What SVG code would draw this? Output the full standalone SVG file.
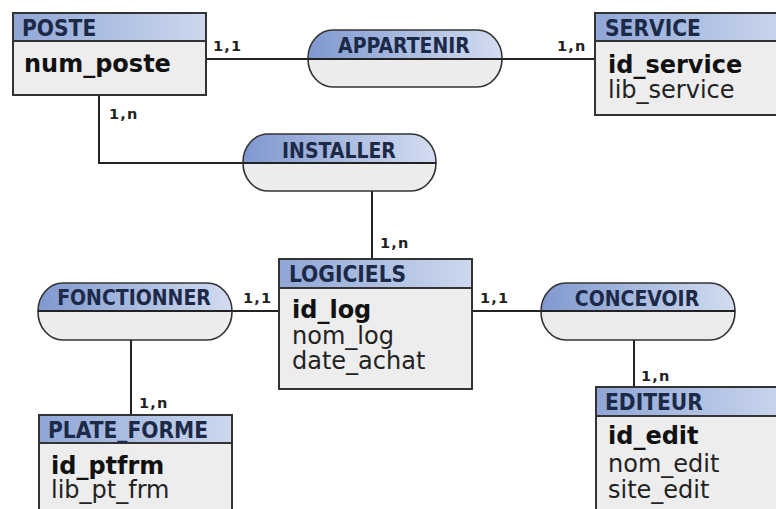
<svg xmlns="http://www.w3.org/2000/svg" width="776" height="509" viewBox="0 0 776 509">
<defs>
<linearGradient id="hg" x1="0" y1="0" x2="1" y2="0">
<stop offset="0" stop-color="#8fa6d6"/>
<stop offset="1" stop-color="#cdd8ee"/>
</linearGradient>
<linearGradient id="rg" x1="0" y1="0" x2="1" y2="0">
<stop offset="0" stop-color="#7f98cf"/>
<stop offset="1" stop-color="#d3ddf0"/>
</linearGradient>
<clipPath id="pill1"><rect x="308" y="30" width="194" height="57" rx="25" ry="28"/></clipPath>
<clipPath id="pill2"><rect x="243" y="134" width="193" height="57" rx="25" ry="28"/></clipPath>
<clipPath id="pill3"><rect x="38" y="283" width="194" height="57" rx="25" ry="28"/></clipPath>
<clipPath id="pill4"><rect x="541" y="283" width="194" height="57" rx="25" ry="28"/></clipPath>
</defs>
<style>
.body{fill:#ededed;stroke:#333;stroke-width:2}
.head{fill:url(#hg);stroke:#333;stroke-width:2}
.rtop{fill:url(#rg)}
.rbot{fill:#ececec}
.rout{fill:none;stroke:#333;stroke-width:1.6}
.ht{font-family:"DejaVu Sans Condensed","DejaVu Sans",sans-serif;font-weight:bold;font-size:22.5px;fill:#1c2a48}
.rt{font-family:"DejaVu Sans Condensed","DejaVu Sans",sans-serif;font-weight:bold;font-size:21px;fill:#1c2a48;text-anchor:middle}
.id{font-family:"DejaVu Sans",sans-serif;font-weight:bold;font-size:24px;fill:#111}
.at{font-family:"DejaVu Sans",sans-serif;font-size:24px;fill:#222}
.card{font-family:"DejaVu Sans",sans-serif;font-weight:bold;font-size:14.5px;fill:#222;letter-spacing:1.2px}
.ln{fill:none;stroke:#222;stroke-width:2}
</style>
<rect width="776" height="509" fill="#ffffff"/>
<g id="connectors">
<line class="ln" x1="206" y1="59" x2="595" y2="59"/>
<polyline class="ln" points="99,95 99,163 243,163"/>
<line class="ln" x1="372" y1="191" x2="372" y2="259"/>
<line class="ln" x1="232" y1="311" x2="279" y2="311"/>
<line class="ln" x1="472" y1="311" x2="541" y2="311"/>
<line class="ln" x1="131" y1="340" x2="131" y2="415"/>
<line class="ln" x1="634" y1="340" x2="634" y2="387"/>
<text class="card" x="213" y="51">1,1</text>
<text class="card" x="557" y="51">1,n</text>
<text class="card" x="109" y="119">1,n</text>
<text class="card" x="380" y="248">1,n</text>
<text class="card" x="243" y="303">1,1</text>
<text class="card" x="480" y="303">1,1</text>
<text class="card" x="139" y="408">1,n</text>
<text class="card" x="641" y="381">1,n</text>
</g>
<g id="POSTE">
<rect class="body" x="13" y="13" width="193" height="82"/>
<rect class="head" x="13" y="13" width="193" height="28"/>
<text class="ht" x="22" y="36">POSTE</text>
<text class="id" x="24" y="72">num_poste</text>
</g>
<g id="SERVICE">
<rect class="body" x="595" y="13" width="200" height="102"/>
<rect class="head" x="595" y="13" width="200" height="28"/>
<text class="ht" x="605" y="36">SERVICE</text>
<text class="id" x="608" y="73">id_service</text>
<text class="at" x="608" y="98">lib_service</text>
</g>
<g id="LOGICIELS">
<rect class="body" x="279" y="259" width="193" height="130"/>
<rect class="head" x="279" y="259" width="193" height="29"/>
<text class="ht" x="289" y="282">LOGICIELS</text>
<text class="id" x="292" y="318">id_log</text>
<text class="at" x="292" y="344">nom_log</text>
<text class="at" x="292" y="369">date_achat</text>
</g>
<g id="PLATE_FORME">
<rect class="body" x="39" y="415" width="193" height="110"/>
<rect class="head" x="39" y="415" width="193" height="28"/>
<text class="ht" x="48" y="438">PLATE_FORME</text>
<text class="id" x="51" y="474">id_ptfrm</text>
<text class="at" x="51" y="498">lib_pt_frm</text>
</g>
<g id="EDITEUR">
<rect class="body" x="596" y="387" width="200" height="140"/>
<rect class="head" x="596" y="387" width="200" height="29"/>
<text class="ht" x="605" y="410">EDITEUR</text>
<text class="id" x="608" y="444">id_edit</text>
<text class="at" x="608" y="472">nom_edit</text>
<text class="at" x="608" y="498">site_edit</text>
</g>
<g id="APPARTENIR">
<g clip-path="url(#pill1)"><rect class="rtop" x="308" y="30" width="194" height="29"/><rect class="rbot" x="308" y="59" width="194" height="28"/></g>
<rect class="rout" x="308" y="30" width="194" height="57" rx="25" ry="28"/>
<line class="ln" x1="308" y1="59" x2="502" y2="59"/>
<text class="rt" x="404" y="53">APPARTENIR</text>
</g>
<g id="INSTALLER">
<g clip-path="url(#pill2)"><rect class="rtop" x="243" y="134" width="193" height="29"/><rect class="rbot" x="243" y="163" width="193" height="28"/></g>
<rect class="rout" x="243" y="134" width="193" height="57" rx="25" ry="28"/>
<line class="ln" x1="243" y1="163" x2="436" y2="163"/>
<text class="rt" x="339" y="158">INSTALLER</text>
</g>
<g id="FONCTIONNER">
<g clip-path="url(#pill3)"><rect class="rtop" x="38" y="283" width="194" height="29"/><rect class="rbot" x="38" y="312" width="194" height="28"/></g>
<rect class="rout" x="38" y="283" width="194" height="57" rx="25" ry="28"/>
<line class="ln" x1="38" y1="311" x2="232" y2="311"/>
<text class="rt" x="134" y="305">FONCTIONNER</text>
</g>
<g id="CONCEVOIR">
<g clip-path="url(#pill4)"><rect class="rtop" x="541" y="283" width="194" height="29"/><rect class="rbot" x="541" y="312" width="194" height="28"/></g>
<rect class="rout" x="541" y="283" width="194" height="57" rx="25" ry="28"/>
<line class="ln" x1="541" y1="311" x2="735" y2="311"/>
<text class="rt" x="637" y="306">CONCEVOIR</text>
</g>
</svg>
